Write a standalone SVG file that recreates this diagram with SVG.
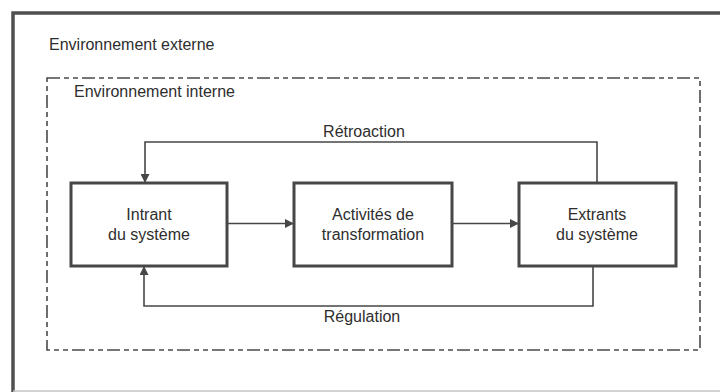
<svg xmlns="http://www.w3.org/2000/svg" width="720" height="392" viewBox="0 0 720 392">
  <style>
    .label { font-family: "Liberation Sans", Arial, sans-serif; font-size: 16px; fill: #2e2e2e; }
    .mid { text-anchor: middle; }
    .box { fill: #fff; stroke: #474747; stroke-width: 3; }
    .link { fill: none; stroke: #474747; stroke-width: 1.6; }
    .zone { fill: none; stroke: #4a4a4a; stroke-width: 1.6; stroke-dasharray: 13 4 5 4 5 4; }
  </style>
  <defs>
    <marker id="arrow" viewBox="0 0 10 10" refX="10" refY="5" markerWidth="10" markerHeight="9" markerUnits="userSpaceOnUse" orient="auto">
      <path d="M0,0 L10,5 L0,10 Z" fill="#474747"/>
    </marker>
  </defs>

  <rect width="720" height="392" fill="#fff"/>

  <!-- external environment frame -->
  <g id="external">
    <path d="M13,392 L13,13 L720,13" fill="none" stroke="#505050" stroke-width="3.5"/>
    <line x1="13" y1="391" x2="720" y2="391" stroke="#c4c4c4" stroke-width="1.5"/>
    <text class="label" x="49" y="50">Environnement externe</text>
  </g>

  <!-- internal environment boundary -->
  <g id="internal">
    <rect class="zone" x="47" y="78" width="653" height="272"/>
    <text class="label" x="74" y="97">Environnement interne</text>
  </g>

  <!-- connectors -->
  <g id="connectors">
    <line class="link" x1="227" y1="223.5" x2="294" y2="223.5" marker-end="url(#arrow)"/>
    <line class="link" x1="452" y1="223.5" x2="519" y2="223.5" marker-end="url(#arrow)"/>
    <polyline class="link" points="597,183 597,142 145,142 145,183" marker-end="url(#arrow)"/>
    <polyline class="link" points="593,266 593,306 144,306 144,266" marker-end="url(#arrow)"/>
    <text class="label mid" x="364" y="137">Rétroaction</text>
    <text class="label mid" x="362" y="322">Régulation</text>
  </g>

  <g id="intrant">
    <rect class="box" x="71" y="183" width="156" height="83"/>
    <text class="label mid" x="149" y="220">Intrant</text>
    <text class="label mid" x="149" y="240">du système</text>
  </g>

  <g id="activites">
    <rect class="box" x="294" y="183" width="158" height="83"/>
    <text class="label mid" x="373" y="220">Activités de</text>
    <text class="label mid" x="373" y="240">transformation</text>
  </g>

  <g id="extrants">
    <rect class="box" x="519" y="183" width="157" height="83"/>
    <text class="label mid" x="597" y="220">Extrants</text>
    <text class="label mid" x="597" y="240">du système</text>
  </g>
</svg>
